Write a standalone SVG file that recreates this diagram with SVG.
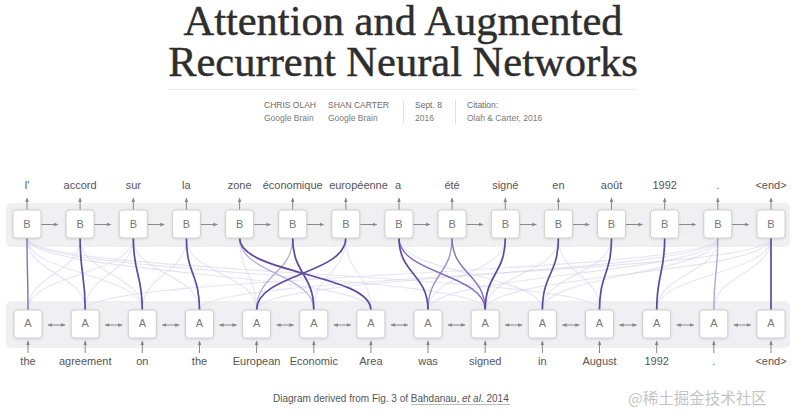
<svg xmlns="http://www.w3.org/2000/svg" width="800" height="416" viewBox="0 0 800 416">
<defs>
<marker id="ah" viewBox="0 0 6 6" refX="5.5" refY="3" markerWidth="4.5" markerHeight="4.5" orient="auto-start-reverse"><path d="M0,0.5 L6,3 L0,5.5 z" fill="#888"/></marker>
<filter id="sh" x="-20%" y="-20%" width="140%" height="140%"><feDropShadow dx="0" dy="0.6" stdDeviation="0.8" flood-color="#000" flood-opacity="0.15"/></filter>
</defs>
<style>
.title{font-family:"Liberation Serif",serif;font-size:42.5px;fill:#2e2e2e;stroke:#2e2e2e;stroke-width:0.45;text-anchor:middle}
.meta{font-family:"Liberation Sans",Arial,sans-serif;font-size:8.5px;fill:#6a6a6a}
.meta2{font-family:"Liberation Sans",Arial,sans-serif;font-size:8.5px;fill:#7a7a7a}
.lbl{font-family:"Liberation Sans",Arial,sans-serif;font-size:11px;fill:#555;text-anchor:middle}
.let{font-family:"Liberation Sans",Arial,sans-serif;font-size:11px;fill:#777;text-anchor:middle}
.box{fill:#fff;stroke:#cfcfcf;stroke-width:1;filter:url(#sh)}
.band{fill:#f0f0f2}
.arr{stroke:#888;stroke-width:1;fill:none;marker-end:url(#ah)}
.darr{stroke:#888;stroke-width:1;fill:none;marker-end:url(#ah);marker-start:url(#ah)}
.s{stroke:#5b4a9f;stroke-width:1.7;fill:none}
.m{stroke:#8070bd;stroke-width:1.4;fill:none}
.l{stroke:#b3a9d8;stroke-width:1.2;fill:none}
.f{stroke:#d9d5ec;stroke-width:1.1;fill:none;opacity:0.65}
.cap{font-family:"Liberation Sans",Arial,sans-serif;font-size:10px;fill:#555}
</style>
<rect width="800" height="416" fill="#fff"/>

<g id="header">
<text class="title" x="403" y="35">Attention and Augmented</text>
<text class="title" x="403" y="75.5">Recurrent Neural Networks</text>
<line x1="168" y1="89.5" x2="638" y2="89.5" stroke="#ececec" stroke-width="1"/>
<text class="meta" x="264" y="108">CHRIS OLAH</text>
<text class="meta2" x="264" y="121">Google Brain</text>
<text class="meta" x="328" y="108">SHAN CARTER</text>
<text class="meta2" x="328" y="121">Google Brain</text>
<line x1="403.5" y1="100" x2="403.5" y2="124" stroke="#e0e0e0"/>
<text class="meta" x="415" y="108">Sept. 8</text>
<text class="meta2" x="415" y="121">2016</text>
<line x1="455.5" y1="100" x2="455.5" y2="124" stroke="#e0e0e0"/>
<text class="meta" x="467" y="108">Citation:</text>
<text class="meta2" x="467" y="121">Olah &amp; Carter, 2016</text>
</g>

<rect class="band" x="6" y="203" width="784" height="44" rx="5"/>
<rect class="band" x="6" y="301" width="784" height="47" rx="5"/>

<g id="connectors">
<g id="attention-faint">
<path class="f" d="M27 238C27 274 85.2 274 85.2 310"/>
<path class="f" d="M27 238C27 274 142.3 274 142.3 310"/>
<path class="f" d="M27 238C27 274 370.9 274 370.9 310"/>
<path class="f" d="M27 238C27 274 485.2 274 485.2 310"/>
<path class="f" d="M27 238C27 274 599.5 274 599.5 310"/>
<path class="f" d="M80.1 238C80.1 274 28 274 28 310"/>
<path class="f" d="M80.1 238C80.1 274 142.3 274 142.3 310"/>
<path class="f" d="M133.3 238C133.3 274 28 274 28 310"/>
<path class="f" d="M133.3 238C133.3 274 85.2 274 85.2 310"/>
<path class="f" d="M133.3 238C133.3 274 199.5 274 199.5 310"/>
<path class="f" d="M186.4 238C186.4 274 142.3 274 142.3 310"/>
<path class="f" d="M186.4 238C186.4 274 256.6 274 256.6 310"/>
<path class="f" d="M239.6 238C239.6 274 256.6 274 256.6 310"/>
<path class="f" d="M345.8 238C345.8 274 370.9 274 370.9 310"/>
<path class="f" d="M345.8 238C345.8 274 313.8 274 313.8 310"/>
<path class="f" d="M399 238C399 274 542.4 274 542.4 310"/>
<path class="f" d="M505.3 238C505.3 274 428 274 428 310"/>
<path class="f" d="M558.4 238C558.4 274 485.2 274 485.2 310"/>
<path class="f" d="M558.4 238C558.4 274 599.5 274 599.5 310"/>
<path class="f" d="M611.5 238C611.5 274 542.4 274 542.4 310"/>
<path class="f" d="M717.8 238C717.8 274 85.2 274 85.2 310"/>
<path class="f" d="M717.8 238C717.8 274 256.6 274 256.6 310"/>
<path class="f" d="M717.8 238C717.8 274 428 274 428 310"/>
<path class="f" d="M717.8 238C717.8 274 542.4 274 542.4 310"/>
<path class="f" d="M717.8 238C717.8 274 656.7 274 656.7 310"/>
<path class="f" d="M771 238C771 274 713.8 274 713.8 310"/>
<path class="f" d="M771 238C771 274 656.7 274 656.7 310"/>
<path class="f" d="M771 238C771 274 485.2 274 485.2 310"/>
<path class="f" d="M771 238C771 274 199.5 274 199.5 310"/>
</g>
<g id="attention-light">
<path class="l" d="M292.7 238C292.7 274 256.6 274 256.6 310"/>
<path class="l" d="M239.6 238C239.6 274 313.8 274 313.8 310"/>
</g>
<g id="attention-medium">
<path class="m" d="M27 238C27 274 28 274 28 310"/>
<path class="m" d="M452.1 238C452.1 274 485.2 274 485.2 310"/>
<path class="m" d="M399 238C399 274 485.2 274 485.2 310"/>
<path class="m" d="M452.1 238C452.1 274 428 274 428 310" opacity="0.75"/>
<path class="m" d="M717.8 238C717.8 274 713.8 274 713.8 310" opacity="0.6"/>
</g>
<g id="attention-strong">
<path class="s" d="M80.1 238C80.1 274 85.2 274 85.2 310"/>
<path class="s" d="M133.3 238C133.3 274 142.3 274 142.3 310"/>
<path class="s" d="M186.4 238C186.4 274 199.5 274 199.5 310"/>
<path class="s" d="M239.6 238C239.6 274 370.9 274 370.9 310"/>
<path class="s" d="M292.7 238C292.7 274 313.8 274 313.8 310"/>
<path class="s" d="M345.8 238C345.8 274 256.6 274 256.6 310"/>
<path class="s" d="M399 238C399 274 428 274 428 310"/>
<path class="s" d="M505.3 238C505.3 274 485.2 274 485.2 310"/>
<path class="s" d="M558.4 238C558.4 274 542.4 274 542.4 310"/>
<path class="s" d="M611.5 238C611.5 274 599.5 274 599.5 310"/>
<path class="s" d="M664.7 238C664.7 274 656.7 274 656.7 310"/>
<path class="s" d="M771 238C771 274 771 274 771 310"/>
</g>
<g id="b-chain">
<path class="arr" d="M41 224.5H58"/>
<path class="arr" d="M94.1 224.5H111.1"/>
<path class="arr" d="M147.3 224.5H164.3"/>
<path class="arr" d="M200.4 224.5H217.4"/>
<path class="arr" d="M253.6 224.5H270.6"/>
<path class="arr" d="M306.7 224.5H323.7"/>
<path class="arr" d="M359.8 224.5H376.8"/>
<path class="arr" d="M413 224.5H430"/>
<path class="arr" d="M466.1 224.5H483.1"/>
<path class="arr" d="M519.3 224.5H536.3"/>
<path class="arr" d="M572.4 224.5H589.4"/>
<path class="arr" d="M625.5 224.5H642.5"/>
<path class="arr" d="M678.7 224.5H695.7"/>
<path class="arr" d="M731.8 224.5H748.8"/>
</g>
<g id="b-out">
<path class="arr" d="M27 210V198"/>
<path class="arr" d="M80.1 210V198"/>
<path class="arr" d="M133.3 210V198"/>
<path class="arr" d="M186.4 210V198"/>
<path class="arr" d="M239.6 210V198"/>
<path class="arr" d="M292.7 210V198"/>
<path class="arr" d="M345.8 210V198"/>
<path class="arr" d="M399 210V198"/>
<path class="arr" d="M452.1 210V198"/>
<path class="arr" d="M505.3 210V198"/>
<path class="arr" d="M558.4 210V198"/>
<path class="arr" d="M611.5 210V198"/>
<path class="arr" d="M664.7 210V198"/>
<path class="arr" d="M717.8 210V198"/>
<path class="arr" d="M771 210V198"/>
</g>
<g id="a-chain">
<path class="darr" d="M48 325H65"/>
<path class="darr" d="M105.2 325H122.2"/>
<path class="darr" d="M162.3 325H179.3"/>
<path class="darr" d="M219.5 325H236.5"/>
<path class="darr" d="M276.6 325H293.6"/>
<path class="darr" d="M333.8 325H350.8"/>
<path class="darr" d="M390.9 325H407.9"/>
<path class="darr" d="M448 325H465"/>
<path class="darr" d="M505.2 325H522.2"/>
<path class="darr" d="M562.4 325H579.4"/>
<path class="darr" d="M619.5 325H636.5"/>
<path class="darr" d="M676.7 325H693.7"/>
<path class="darr" d="M733.8 325H750.8"/>
</g>
<g id="a-in">
<path class="arr" d="M28 353V341"/>
<path class="arr" d="M85.2 353V341"/>
<path class="arr" d="M142.3 353V341"/>
<path class="arr" d="M199.5 353V341"/>
<path class="arr" d="M256.6 353V341"/>
<path class="arr" d="M313.8 353V341"/>
<path class="arr" d="M370.9 353V341"/>
<path class="arr" d="M428 353V341"/>
<path class="arr" d="M485.2 353V341"/>
<path class="arr" d="M542.4 353V341"/>
<path class="arr" d="M599.5 353V341"/>
<path class="arr" d="M656.7 353V341"/>
<path class="arr" d="M713.8 353V341"/>
<path class="arr" d="M771 353V341"/>
</g>
</g>

<g id="b-nodes">
<g id="b0"><rect class="box" x="13" y="210" width="28" height="28" rx="3"/><text class="let" x="27" y="228">B</text><text class="lbl" x="27" y="189">l'</text></g>
<g id="b1"><rect class="box" x="66.1" y="210" width="28" height="28" rx="3"/><text class="let" x="80.1" y="228">B</text><text class="lbl" x="80.1" y="189">accord</text></g>
<g id="b2"><rect class="box" x="119.3" y="210" width="28" height="28" rx="3"/><text class="let" x="133.3" y="228">B</text><text class="lbl" x="133.3" y="189">sur</text></g>
<g id="b3"><rect class="box" x="172.4" y="210" width="28" height="28" rx="3"/><text class="let" x="186.4" y="228">B</text><text class="lbl" x="186.4" y="189">la</text></g>
<g id="b4"><rect class="box" x="225.6" y="210" width="28" height="28" rx="3"/><text class="let" x="239.6" y="228">B</text><text class="lbl" x="239.6" y="189">zone</text></g>
<g id="b5"><rect class="box" x="278.7" y="210" width="28" height="28" rx="3"/><text class="let" x="292.7" y="228">B</text><text class="lbl" x="292.7" y="189">économique</text></g>
<g id="b6"><rect class="box" x="331.8" y="210" width="28" height="28" rx="3"/><text class="let" x="345.8" y="228">B</text><text class="lbl" x="358.5" y="189">européenne</text></g>
<g id="b7"><rect class="box" x="385" y="210" width="28" height="28" rx="3"/><text class="let" x="399" y="228">B</text><text class="lbl" x="398" y="189">a</text></g>
<g id="b8"><rect class="box" x="438.1" y="210" width="28" height="28" rx="3"/><text class="let" x="452.1" y="228">B</text><text class="lbl" x="452.1" y="189">été</text></g>
<g id="b9"><rect class="box" x="491.3" y="210" width="28" height="28" rx="3"/><text class="let" x="505.3" y="228">B</text><text class="lbl" x="505.3" y="189">signé</text></g>
<g id="b10"><rect class="box" x="544.4" y="210" width="28" height="28" rx="3"/><text class="let" x="558.4" y="228">B</text><text class="lbl" x="558.4" y="189">en</text></g>
<g id="b11"><rect class="box" x="597.5" y="210" width="28" height="28" rx="3"/><text class="let" x="611.5" y="228">B</text><text class="lbl" x="611.5" y="189">août</text></g>
<g id="b12"><rect class="box" x="650.7" y="210" width="28" height="28" rx="3"/><text class="let" x="664.7" y="228">B</text><text class="lbl" x="664.7" y="189">1992</text></g>
<g id="b13"><rect class="box" x="703.8" y="210" width="28" height="28" rx="3"/><text class="let" x="717.8" y="228">B</text><text class="lbl" x="717.8" y="189">.</text></g>
<g id="b14"><rect class="box" x="757" y="210" width="28" height="28" rx="3"/><text class="let" x="771" y="228">B</text><text class="lbl" x="771" y="189">&lt;end&gt;</text></g>
</g>

<g id="a-nodes">
<g id="a0"><rect class="box" x="14" y="310" width="28" height="28" rx="3"/><text class="let" x="28" y="327">A</text><text class="lbl" x="28" y="365">the</text></g>
<g id="a1"><rect class="box" x="71.2" y="310" width="28" height="28" rx="3"/><text class="let" x="85.2" y="327">A</text><text class="lbl" x="85.2" y="365">agreement</text></g>
<g id="a2"><rect class="box" x="128.3" y="310" width="28" height="28" rx="3"/><text class="let" x="142.3" y="327">A</text><text class="lbl" x="142.3" y="365">on</text></g>
<g id="a3"><rect class="box" x="185.5" y="310" width="28" height="28" rx="3"/><text class="let" x="199.5" y="327">A</text><text class="lbl" x="199.5" y="365">the</text></g>
<g id="a4"><rect class="box" x="242.6" y="310" width="28" height="28" rx="3"/><text class="let" x="256.6" y="327">A</text><text class="lbl" x="256.6" y="365">European</text></g>
<g id="a5"><rect class="box" x="299.8" y="310" width="28" height="28" rx="3"/><text class="let" x="313.8" y="327">A</text><text class="lbl" x="313.8" y="365">Economic</text></g>
<g id="a6"><rect class="box" x="356.9" y="310" width="28" height="28" rx="3"/><text class="let" x="370.9" y="327">A</text><text class="lbl" x="370.9" y="365">Area</text></g>
<g id="a7"><rect class="box" x="414" y="310" width="28" height="28" rx="3"/><text class="let" x="428" y="327">A</text><text class="lbl" x="428" y="365">was</text></g>
<g id="a8"><rect class="box" x="471.2" y="310" width="28" height="28" rx="3"/><text class="let" x="485.2" y="327">A</text><text class="lbl" x="485.2" y="365">signed</text></g>
<g id="a9"><rect class="box" x="528.4" y="310" width="28" height="28" rx="3"/><text class="let" x="542.4" y="327">A</text><text class="lbl" x="542.4" y="365">in</text></g>
<g id="a10"><rect class="box" x="585.5" y="310" width="28" height="28" rx="3"/><text class="let" x="599.5" y="327">A</text><text class="lbl" x="599.5" y="365">August</text></g>
<g id="a11"><rect class="box" x="642.7" y="310" width="28" height="28" rx="3"/><text class="let" x="656.7" y="327">A</text><text class="lbl" x="656.7" y="365">1992</text></g>
<g id="a12"><rect class="box" x="699.8" y="310" width="28" height="28" rx="3"/><text class="let" x="713.8" y="327">A</text><text class="lbl" x="713.8" y="365">.</text></g>
<g id="a13"><rect class="box" x="757" y="310" width="28" height="28" rx="3"/><text class="let" x="771" y="327">A</text><text class="lbl" x="771" y="365">&lt;end&gt;</text></g>
</g>

<g id="caption">
<text class="cap" x="273" y="402">Diagram derived from Fig. 3 of Bahdanau, <tspan font-style="italic">et al.</tspan> 2014</text>
<line x1="411" y1="404.5" x2="510" y2="404.5" stroke="#aaa" stroke-width="0.8"/>
<text x="628" y="404" font-family="'Noto Sans CJK SC','Liberation Sans',sans-serif" font-size="15.5" fill="#c4c4c4">@稀土掘金技术社区</text>
</g>
</svg>
